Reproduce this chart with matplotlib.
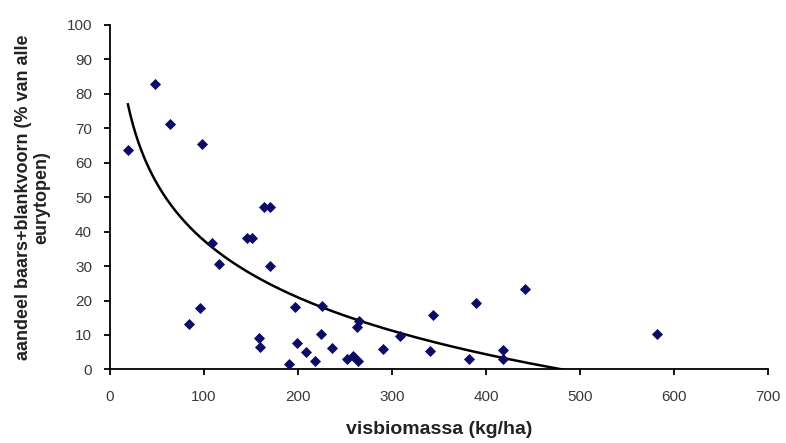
import numpy as np
import matplotlib
matplotlib.use("Agg")
import matplotlib.pyplot as plt

plt.rcParams['font.family'] = ['Liberation Sans', 'DejaVu Sans']

biomass = [19, 48, 64, 98, 84, 96, 109, 116, 146, 151, 158, 160, 164, 170, 170,
           190, 197, 199, 209, 218, 225, 224, 236, 252, 259, 264, 263, 265, 290,
           309, 340, 344, 382, 389, 418, 418, 442, 582]
share = [63.7, 82.8, 71.2, 65.3, 13.1, 17.7, 36.7, 30.7, 38.2, 38.2, 9.0, 6.5,
         47.0, 47.0, 30.1, 1.6, 18.1, 7.8, 5.0, 2.6, 18.3, 10.2, 6.1, 3.1, 4.0,
         2.6, 12.3, 14.2, 6.0, 9.7, 5.5, 15.7, 3.1, 19.3, 5.7, 2.9, 23.3, 10.2]
# logarithmic trend line: y = a + b*ln(x)
trend_a = 147.0
trend_b = -23.8

xticks = [0, 100, 200, 300, 400, 500, 600, 700]
yticks = [0, 10, 20, 30, 40, 50, 60, 70, 80, 90, 100]

fig = plt.figure(figsize=(7.86, 4.43), dpi=100)
ax = fig.add_axes([0.14, 0.166, 0.837, 0.778])

ax.scatter(biomass, share, marker='D', s=32, color='#0c0c66', zorder=3, linewidths=0)
xs = np.linspace(min(biomass), max(biomass), 400)
ax.plot(xs, trend_a + trend_b * np.log(xs), color='black', lw=1.8, zorder=2)

ax.set_xlim(0, 700)
ax.set_ylim(0, 100)
ax.set_xticks(xticks)
ax.set_yticks(yticks)
for s in ['top', 'right']:
    ax.spines[s].set_visible(False)
for s in ['left', 'bottom']:
    ax.spines[s].set_linewidth(1.3)
ax.tick_params(direction='out', length=4, width=1.3, labelsize=11,
               labelcolor='#3a3a3a')
ax.tick_params(axis='x', pad=11)
ax.tick_params(axis='y', pad=9)
ax.set_xlabel('visbiomassa (kg/ha)', fontsize=14, fontweight='bold',
              labelpad=12, color='#222222')
ax.set_ylabel('aandeel baars+blankvoorn (% van alle\neurytopen)', fontsize=13,
              fontweight='bold', labelpad=12, linespacing=1.05, color='#222222')

fig.savefig('out.png', dpi=100)
